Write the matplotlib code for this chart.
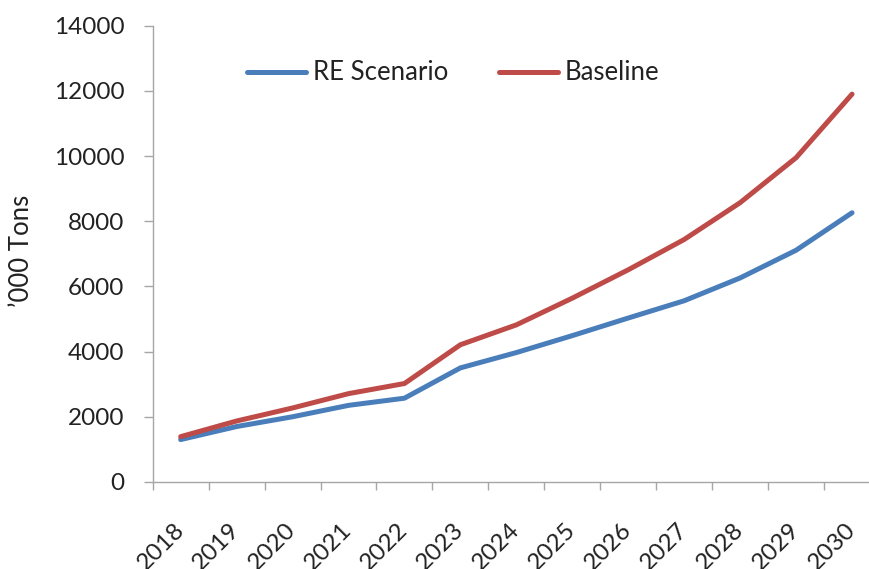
import matplotlib.pyplot as plt
import numpy as np

years = ['2018', '2019', '2020', '2021', '2022', '2023', '2024',
         '2025', '2026', '2027', '2028', '2029', '2030']
re_scenario = [1300, 1700, 2000, 2350, 2570, 3500, 3970,
               4490, 5030, 5560, 6260, 7110, 8260]
baseline = [1390, 1870, 2270, 2710, 3020, 4210, 4820,
            5640, 6510, 7440, 8570, 9950, 11900]
y_ticks = [0, 2000, 4000, 6000, 8000, 10000, 12000, 14000]

BLUE = '#4A7EBB'
RED = '#BE4B48'
AXIS = '#A6A6A6'
TEXT = '#222222'

plt.rcParams['font.family'] = ['Lato', 'DejaVu Sans']


def main():
    fig = plt.figure(figsize=(8.7, 5.69), dpi=100)
    ax = fig.add_axes([0.1755, 0.153, 0.836, 0.8018])

    x = np.arange(len(years))
    ax.plot(x, re_scenario, color=BLUE, lw=3.6, solid_capstyle='round',
            solid_joinstyle='round', label='RE Scenario')
    ax.plot(x, baseline, color=RED, lw=3.6, solid_capstyle='round',
            solid_joinstyle='round', label='Baseline')

    ax.set_xlim(-0.5, len(years) - 0.5)
    ax.set_ylim(0, 14000)

    # 轴线样式
    for side in ('top', 'right'):
        ax.spines[side].set_visible(False)
    for side in ('left', 'bottom'):
        ax.spines[side].set_color(AXIS)
        ax.spines[side].set_linewidth(1.0)

    ax.set_yticks(y_ticks)
    ax.set_yticklabels([str(v) for v in y_ticks])
    ax.tick_params(axis='y', direction='out', length=6.5, width=1.0,
                   color=AXIS, pad=14, labelsize=17.5, labelcolor=TEXT)

    ax.set_xticks(x)
    ax.set_xticklabels(years, rotation=45, ha='right', va='center',
                       rotation_mode='anchor')
    ax.set_xticks(np.arange(-0.5, len(years), 1.0), minor=True)
    ax.tick_params(axis='x', which='major', length=0, pad=32,
                   labelsize=17.5, labelcolor=TEXT)
    ax.tick_params(axis='x', which='minor', direction='out', length=5.8,
                   width=1.0, color=AXIS)

    fig.text(22 / 870, 1 - 251 / 569, '\u2019000 Tons', rotation=90,
             ha='center', va='center', fontsize=18.5, color=TEXT)

    ax.legend(loc='center left', bbox_to_anchor=(247 / 870, 1 - 73 / 569),
              bbox_transform=fig.transFigure, ncol=2, frameon=False,
              fontsize=18.5, handlelength=2.3, handletextpad=0.25,
              columnspacing=2.0, borderpad=0, borderaxespad=0,
              labelcolor=TEXT)

    fig.savefig('out.png', dpi=100)


if __name__ == "__main__":
    main()
